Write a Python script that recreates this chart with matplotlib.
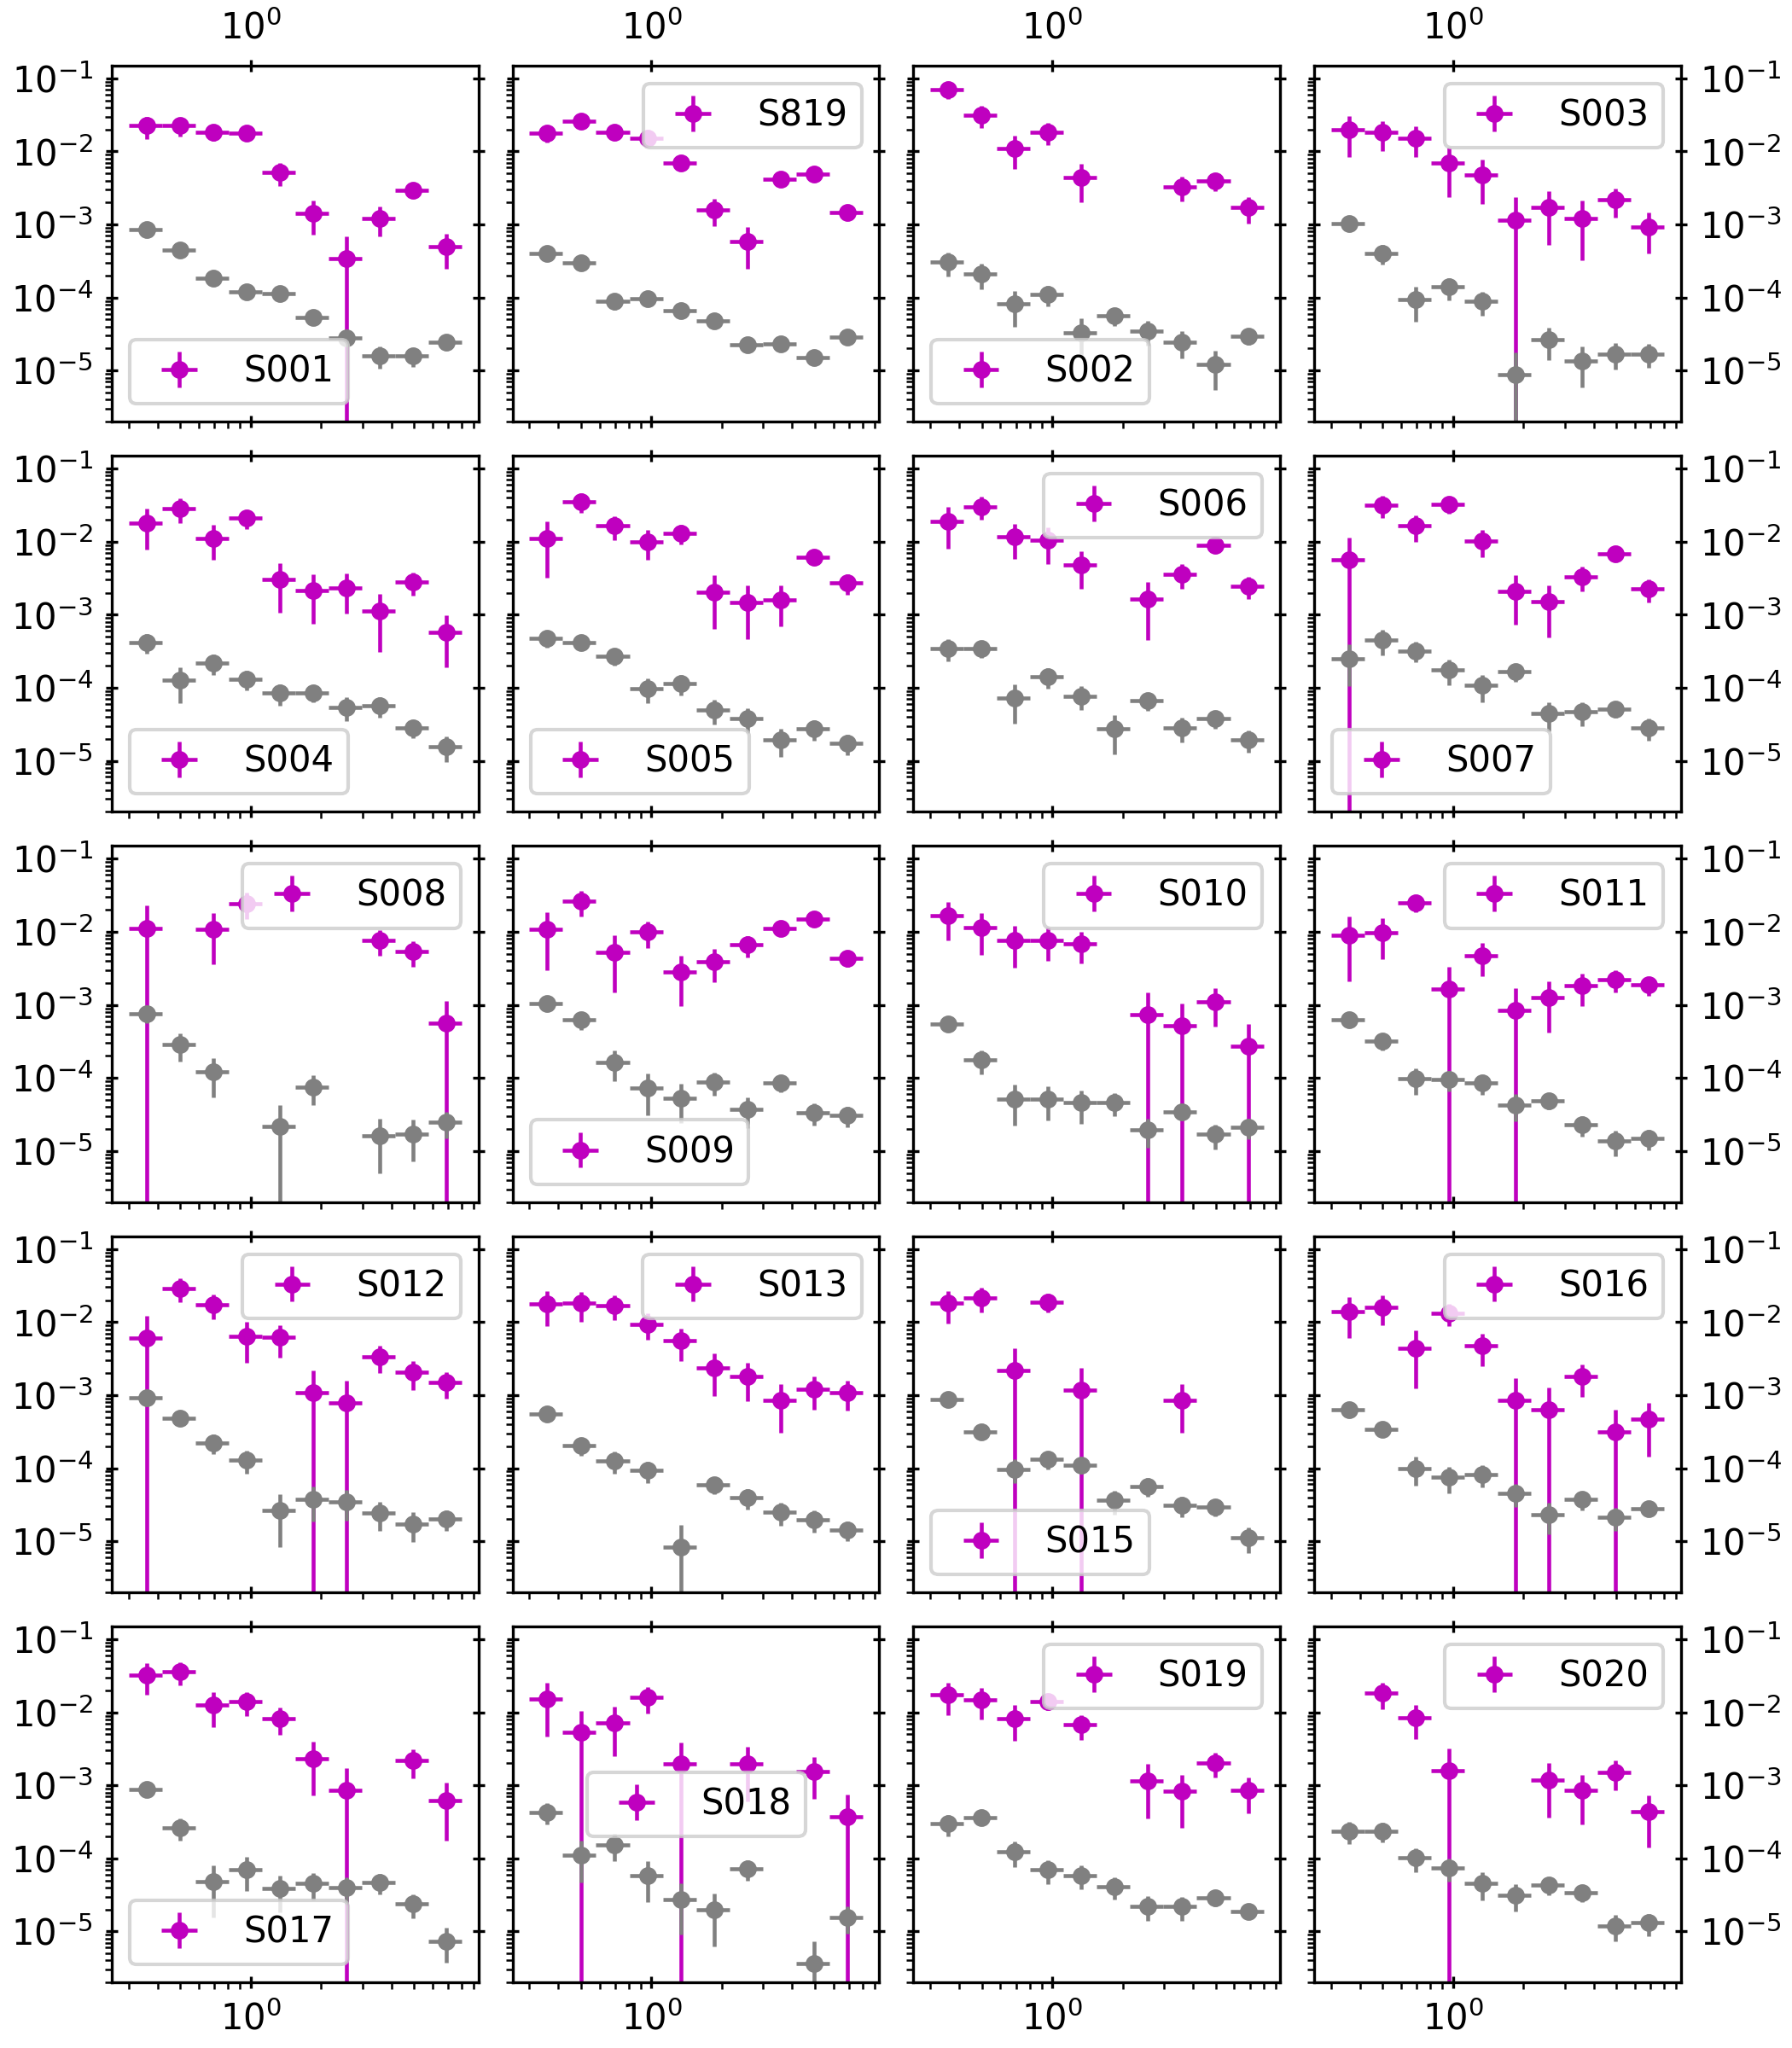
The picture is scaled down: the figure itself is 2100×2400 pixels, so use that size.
import numpy as np
import matplotlib
matplotlib.use('Agg')
import matplotlib.pyplot as plt

nan = np.nan

# energy bin edges (log bins)
bin_edges = [0.3, 0.417, 0.579, 0.804, 1.116, 1.550, 2.152, 2.988, 4.150, 5.763, 8.0]

names = ['S001', 'S819', 'S002', 'S003',
         'S004', 'S005', 'S006', 'S007',
         'S008', 'S009', 'S010', 'S011',
         'S012', 'S013', 'S015', 'S016',
         'S017', 'S018', 'S019', 'S020']

legend_locs = ['lower left', 'upper right', 'lower left', 'upper right',
               'lower left', 'lower left', 'upper right', 'lower left',
               'upper right', 'lower left', 'upper right', 'upper right',
               'upper right', 'upper right', 'lower left', 'upper right',
               'lower left', 'center', 'upper right', 'upper right']

# source spectra (magenta)
src_flux = [
    [0.0224, 0.0224, 0.0181, 0.0176, 0.0052, 0.00142, 3.41e-4, 0.00121, 0.0029, 5.0e-4],
    [0.0179, 0.0258, 0.0182, 0.0152, 0.0069, 0.0016, 5.9e-4, 0.00414, 0.00492, 0.00145],
    [0.0697, 0.0317, 0.0111, 0.0184, 0.0044, nan, nan, 0.0033, 0.00395, 0.0017],
    [0.0196, 0.0182, 0.0152, 0.0069, 0.00483, 0.00116, 0.0017, 0.00121, 0.00218, 0.00093],
    [0.0179, 0.0284, 0.0112, 0.0211, 0.00306, 0.00215, 0.00235, 0.00111, 0.00282, 5.8e-4],
    [0.0112, 0.0353, 0.0165, 0.0100, 0.0130, 0.00204, 0.00148, 0.0016, 0.0062, 0.0027],
    [0.0189, 0.0303, 0.0117, 0.0104, 0.00486, nan, 0.00162, 0.0036, 0.0089, 0.00246],
    [0.00566, 0.0316, 0.0165, 0.0325, 0.0102, 0.00209, 0.00152, 0.00329, 0.00679, 0.00225],
    [0.0112, nan, 0.0109, 0.0246, nan, nan, nan, 0.00758, 0.00538, 5.6e-4],
    [0.0109, 0.0262, 0.00528, 0.00996, 0.00286, 0.00395, 0.00662, 0.0111, 0.0150, 0.0043],
    [0.0167, 0.0114, 0.00773, 0.00773, 0.00693, nan, 7.34e-4, 5.16e-4, 1.11e-3, 2.71e-4],
    [0.0091, 0.00969, 0.0251, 0.00166, 0.00474, 8.4e-4, 1.26e-3, 1.82e-3, 2.24e-3, 1.87e-3],
    [6.08e-3, 0.029, 0.0175, 6.37e-3, 6.2e-3, 1.09e-3, 7.76e-4, 3.38e-3, 2.06e-3, 1.48e-3],
    [0.0177, 0.018, 0.0169, 9.4e-3, 5.56e-3, 2.36e-3, 1.8e-3, 8.57e-4, 1.22e-3, 1.09e-3],
    [0.018, 0.0215, 2.16e-3, 0.0188, 1.17e-3, nan, nan, 8.57e-4, nan, nan],
    [0.014, 0.0161, 4.43e-3, 0.0133, 4.73e-3, 8.5e-4, 6.25e-4, 1.8e-3, 3.18e-4, 4.65e-4],
    [0.0322, 0.036, 0.0125, 0.014, 8.28e-3, 2.33e-3, 8.45e-4, nan, 2.19e-3, 6.27e-4],
    [0.0152, 5.27e-3, 7.23e-3, 0.016, 1.95e-3, nan, 1.98e-3, nan, 1.55e-3, 3.7e-4],
    [0.0174, 0.0147, 8.28e-3, 0.0139, 6.73e-3, nan, 1.15e-3, 8.23e-4, 2.04e-3, 8.45e-4],
    [nan, 0.0184, 8.51e-3, 1.59e-3, nan, nan, 1.18e-3, 8.45e-4, 1.51e-3, 4.36e-4],
]
src_err = [
    [0.0075, 0.0065, 0.0043, 0.002, 0.0018, 0.0007, 3.45e-4, 5.3e-4, 5.8e-4, 2.5e-4],
    [0.0046, 0.0042, 0.003, 0.002, 0.0013, 0.00064, 3.4e-4, 0.0007, 0.001, 0.00026],
    [0.0176, 0.0106, 0.0053, 0.0062, 0.0024, nan, nan, 0.00123, 0.0011, 0.00068],
    [0.0112, 0.008, 0.0069, 0.0045, 0.0029, 0.00118, 0.00118, 0.00089, 0.00095, 0.00053],
    [0.0102, 0.0106, 0.0056, 0.0061, 0.002, 0.0014, 0.00132, 0.0008, 0.001, 3.9e-4],
    [0.008, 0.0102, 0.006, 0.0043, 0.0038, 0.0014, 0.00102, 0.0009, 0.0012, 0.00084],
    [0.0108, 0.0105, 0.0059, 0.0054, 0.0026, nan, 0.00117, 0.00134, 0.0014, 0.00083],
    [0.0058, 0.0106, 0.0066, 0.0083, 0.0041, 0.00135, 0.00103, 0.00123, 0.00134, 0.00076],
    [0.0117, nan, 0.0073, 0.0097, nan, nan, nan, 0.0029, 0.0021, 5.7e-4],
    [0.0079, 0.0098, 0.0038, 0.0039, 0.0019, 0.0019, 0.0021, 0.0015, 0.0015, 0.001],
    [0.0091, 0.0065, 0.0045, 0.0037, 0.0032, nan, 7.4e-4, 5.2e-4, 6e-4, 2.75e-4],
    [0.007, 0.0055, 0.0066, 0.00167, 0.0023, 8.6e-4, 8.4e-4, 8.6e-4, 7.4e-4, 5.3e-4],
    [6.1e-3, 0.0105, 0.0065, 0.0036, 0.0029, 1.1e-3, 7.9e-4, 1.38e-3, 9e-4, 5.8e-4],
    [0.0088, 0.0079, 0.0063, 0.0037, 2.64e-3, 1.4e-3, 9.7e-4, 5.5e-4, 5.8e-4, 4.8e-4],
    [0.0085, 0.0081, 2.2e-3, 0.0054, 1.18e-3, nan, nan, 5.5e-4, nan, nan],
    [0.0079, 0.0071, 3.2e-3, 0.0044, 2.24e-3, 8.6e-4, 6.3e-4, 8.5e-4, 3.2e-4, 3.2e-4],
    [0.015, 0.0125, 0.0062, 0.005, 3.4e-3, 1.6e-3, 8.8e-4, nan, 9.3e-4, 4.5e-4],
    [0.0105, 5.3e-3, 4.7e-3, 6.4e-3, 1.96e-3, nan, 1.37e-3, nan, 8.9e-4, 3.72e-4],
    [0.0083, 0.0067, 4.2e-3, 3.2e-3, 2.5e-3, nan, 8e-4, 5.6e-4, 7.5e-4, 4.3e-4],
    [nan, 0.0073, 4.2e-3, 1.6e-3, nan, nan, 8.2e-4, 5.5e-4, 6.6e-4, 2.95e-4],
]

# background spectra (grey)
bkg_flux = [
    [8.6e-4, 4.5e-4, 1.82e-4, 1.19e-4, 1.14e-4, 5.4e-5, 2.82e-5, 1.6e-5, 1.57e-5, 2.46e-5],
    [4.0e-4, 2.97e-4, 8.8e-5, 9.6e-5, 6.7e-5, 4.8e-5, 2.28e-5, 2.32e-5, 1.52e-5, 2.91e-5],
    [3.06e-4, 2.09e-4, 8.2e-5, 1.1e-4, 3.33e-5, 5.6e-5, 3.49e-5, 2.47e-5, 1.2e-5, 2.96e-5],
    [1.04e-3, 4.0e-4, 9.3e-5, 1.39e-4, 8.8e-5, 8.8e-6, 2.65e-5, 1.37e-5, 1.69e-5, 1.69e-5],
    [4.2e-4, 1.26e-4, 2.17e-4, 1.32e-4, 8.4e-5, 8.55e-5, 5.44e-5, 5.69e-5, 2.83e-5, 1.57e-5],
    [4.78e-4, 4.2e-4, 2.73e-4, 9.8e-5, 1.13e-4, 5.0e-5, 3.78e-5, 1.92e-5, 2.71e-5, 1.75e-5],
    [3.48e-4, 3.48e-4, 7.15e-5, 1.42e-4, 7.7e-5, 2.71e-5, 6.58e-5, 2.83e-5, 3.78e-5, 1.94e-5],
    [2.49e-4, 4.49e-4, 3.21e-4, 1.77e-4, 1.07e-4, 1.66e-4, 4.46e-5, 4.67e-5, 5.1e-5, 2.83e-5],
    [7.55e-4, 2.87e-4, 1.2e-4, nan, 2.16e-5, 7.5e-5, nan, 1.61e-5, 1.69e-5, 2.47e-5],
    [1.04e-3, 6.19e-4, 1.65e-4, 7.3e-5, 5.33e-5, 8.77e-5, 3.75e-5, 8.6e-5, 3.33e-5, 3.04e-5],
    [5.5e-4, 1.75e-4, 5.14e-5, 5.14e-5, 4.57e-5, 4.57e-5, 1.94e-5, 3.42e-5, 1.69e-5, 2.12e-5],
    [6.3e-4, 3.2e-4, 9.7e-5, 9.6e-5, 8.45e-5, 4.26e-5, 4.92e-5, 2.28e-5, 1.37e-5, 1.48e-5],
    [9.14e-4, 4.86e-4, 2.21e-4, 1.28e-4, 2.63e-5, 3.71e-5, 3.45e-5, 2.42e-5, 1.72e-5, 2.0e-5],
    [5.56e-4, 2.06e-4, 1.25e-4, 9.3e-5, 8.36e-6, 5.97e-5, 3.98e-5, 2.47e-5, 1.97e-5, 1.44e-5],
    [8.73e-4, 3.15e-4, 9.7e-5, 1.31e-4, 1.09e-4, 3.6e-5, 5.66e-5, 3.09e-5, 2.96e-5, 1.11e-5],
    [6.37e-4, 3.38e-4, 1.0e-4, 7.5e-5, 8.2e-5, 4.56e-5, 2.32e-5, 3.71e-5, 2.15e-5, 2.82e-5],
    [8.85e-4, 2.65e-4, 4.75e-5, 7.0e-5, 3.85e-5, 4.54e-5, 3.96e-5, 4.67e-5, 2.37e-5, 7.4e-6],
    [4.29e-4, 1.12e-4, 1.54e-4, 5.85e-5, 2.76e-5, 1.97e-5, 7.15e-5, nan, 3.66e-6, 1.56e-5],
    [2.96e-4, 3.64e-4, 1.23e-4, 7.0e-5, 5.85e-5, 4.14e-5, 2.2e-5, 2.2e-5, 2.88e-5, 1.88e-5],
    [2.36e-4, 2.37e-4, 1.01e-4, 7.46e-5, 4.54e-5, 3.16e-5, 4.34e-5, 3.4e-5, 1.2e-5, 1.31e-5],
]
bkg_err = [
    [6e-5, 4e-5, 2.2e-5, 2.4e-5, 1.2e-5, 1.2e-5, 5e-6, 5.5e-6, 4.5e-6, 2.5e-6],
    [4e-5, 3e-5, 2e-5, 1e-5, 1.2e-5, 6e-6, 5e-6, 3e-6, 2e-6, 3e-6],
    [1.1e-4, 7.8e-5, 4.2e-5, 3.4e-5, 1.8e-5, 1.5e-5, 1.3e-5, 1.0e-5, 6.6e-6, 7e-6],
    [6e-5, 1.2e-4, 4.6e-5, 4.7e-5, 3.2e-5, 9e-6, 1.25e-5, 7.9e-6, 6.7e-6, 6e-6],
    [1.3e-4, 6.4e-5, 6.8e-5, 4.1e-5, 2.8e-5, 2.3e-5, 1.9e-5, 1.8e-5, 8e-6, 6e-6],
    [1.27e-4, 9e-5, 7e-5, 3.7e-5, 3.5e-5, 1.9e-5, 1.4e-5, 8e-6, 8.5e-6, 5.5e-6],
    [1.2e-4, 9e-5, 3.9e-5, 4.4e-5, 2.7e-5, 1.47e-5, 1.8e-5, 1.07e-5, 1.0e-5, 6.5e-6],
    [1.43e-4, 1.68e-4, 1e-4, 6.8e-5, 4.4e-5, 4.4e-5, 1.9e-5, 1.7e-5, 1.2e-5, 9.5e-6],
    [1.9e-4, 1.2e-4, 6.6e-5, nan, 2.1e-5, 3.3e-5, nan, 1.12e-5, 9.7e-6, 1.0e-5],
    [1e-4, 1.7e-4, 7.4e-5, 4.2e-5, 2.9e-5, 3e-5, 1.7e-5, 2.2e-5, 1.1e-5, 9.4e-6],
    [5e-5, 6.4e-5, 2.9e-5, 2.5e-5, 2.2e-5, 1.6e-5, 8.4e-6, 7.6e-6, 6.3e-6, 6.6e-6],
    [4e-5, 8e-5, 3.9e-5, 3e-5, 2.5e-5, 1.7e-5, 1.2e-5, 7e-6, 5.3e-6, 4.6e-6],
    [8e-5, 7e-5, 6.7e-5, 4.4e-5, 1.8e-5, 1.85e-5, 1.55e-5, 1.05e-5, 7.5e-6, 6.3e-6],
    [5e-5, 5.7e-5, 4.2e-5, 3e-5, 8.5e-6, 1.6e-5, 1.25e-5, 8.5e-6, 6.6e-6, 4.4e-6],
    [6e-5, 7e-5, 3.4e-5, 3.6e-5, 2.5e-5, 1.3e-5, 1.6e-5, 9.7e-6, 7.5e-6, 4.3e-6],
    [5e-5, 6e-5, 4.2e-5, 3e-5, 2.7e-5, 1.6e-5, 1.07e-5, 1.1e-5, 7.5e-6, 5.7e-6],
    [6e-5, 9e-5, 3.2e-5, 3.4e-5, 2e-5, 1.8e-5, 1.6e-5, 1.5e-5, 8.4e-6, 3.7e-6],
    [1.4e-4, 6.5e-5, 6.2e-5, 3.3e-5, 1.85e-5, 1.35e-5, 2.2e-5, nan, 3.6e-6, 6.4e-6],
    [9.6e-5, 6e-5, 4.6e-5, 2.55e-5, 2.1e-5, 1.4e-5, 8.2e-6, 8e-6, 6.8e-6, 4.1e-6],
    [8e-5, 7e-5, 3.6e-5, 2.6e-5, 1.85e-5, 1.3e-5, 1.2e-5, 9e-6, 4.7e-6, 4.4e-6],
]

plt.rcParams['font.family'] = ['DejaVu Sans']
plt.rcParams['font.size'] = 10

edges = np.array(bin_edges)
x = 0.5 * (edges[:-1] + edges[1:])
xerr = [x - edges[:-1], edges[1:] - x]

fig, axes = plt.subplots(5, 4, figsize=(7, 8), dpi=300)
fig.subplots_adjust(left=0.0624, right=0.938, bottom=0.032, top=0.968,
                    wspace=0.093, hspace=0.096)

for i, ax in enumerate(axes.flat):
    r, c = divmod(i, 4)
    ax.errorbar(x, src_flux[i], xerr=xerr, yerr=src_err[i], fmt='o', color='m',
                ms=4, elinewidth=1.1, label=names[i])
    ax.errorbar(x, bkg_flux[i], xerr=xerr, yerr=bkg_err[i], fmt='o', color='gray',
                ms=4, elinewidth=1.1)
    ax.set_xscale('log')
    ax.set_yscale('log')
    ax.set_ylim(2e-6, 0.15)
    ax.tick_params(which='major', direction='inout', top=True, right=True,
                   labelleft=(c == 0), labelright=(c == 3),
                   labeltop=(r == 0), labelbottom=(r == 4))
    ax.tick_params(which='minor', direction='out', top=False, right=False,
                   left=True, bottom=True)
    ax.legend(loc=legend_locs[i])

fig.savefig('out.png')
